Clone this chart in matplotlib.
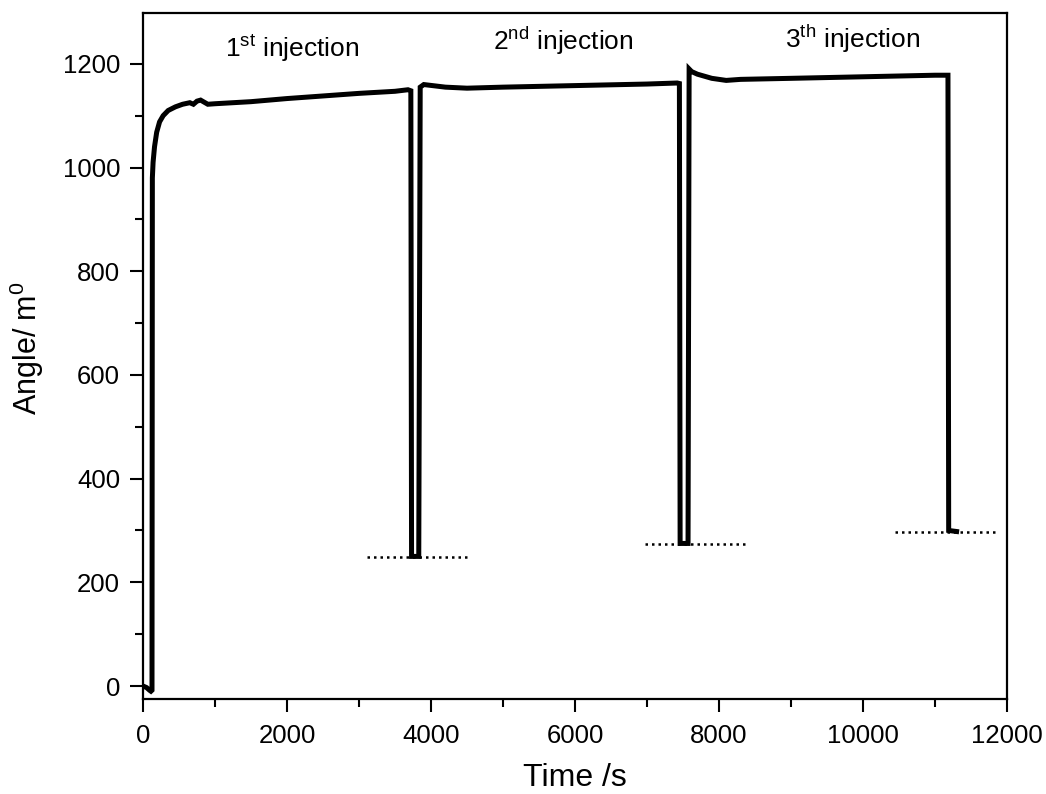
import matplotlib
matplotlib.use("Agg")
import matplotlib.pyplot as plt
from matplotlib.ticker import MultipleLocator

plt.rcParams['font.family'] = ['Liberation Sans', 'DejaVu Sans']
plt.rcParams['mathtext.fontset'] = 'custom'
plt.rcParams['mathtext.rm'] = 'Liberation Sans'
plt.rcParams['mathtext.it'] = 'Liberation Sans:italic'
plt.rcParams['mathtext.bf'] = 'Liberation Sans:bold'

time_s = [0, 50, 90, 110, 125, 130, 140, 160, 190, 230, 280, 350, 450, 550, 650, 700, 750, 800,
          850, 900, 1000, 1500, 2000, 2500, 3000, 3500, 3680, 3720, 3730, 3830, 3850, 3900,
          4200, 4500, 5000, 6000, 7000, 7420, 7450, 7460, 7570, 7585, 7620, 7700, 7900, 8100,
          8300, 9000, 10000, 11000, 11180, 11190, 11300]
angle = [0, -3, -8, -10, -8, 980, 1010, 1040, 1068, 1088, 1100, 1110, 1117, 1122, 1125, 1122,
         1128, 1130, 1126, 1122, 1123, 1127, 1133, 1138, 1143, 1147, 1150, 1148, 250, 250,
         1155, 1160, 1155, 1153, 1155, 1158, 1161, 1163, 1162, 275, 275, 1190, 1185, 1180,
         1172, 1168, 1170, 1172, 1175, 1178, 1178, 300, 298]

baseline_x = [[3110, 4500], [6970, 8360], [10440, 11830]]
baseline_y = [249, 274, 297]

labels = [("1", "st", 1140, 1214), ("2", "nd", 4860, 1226), ("3", "th", 8917, 1230)]

fig = plt.figure(figsize=(10.46, 7.94), dpi=100)
ax = fig.add_axes([143/1046, 1 - 699/794, (1007-143)/1046, (699-13)/794])
ax.plot(time_s, angle, color='black', lw=3.6, solid_joinstyle='miter')
for xs, yv in zip(baseline_x, baseline_y):
    ax.plot(xs, [yv, yv], color='black', lw=1.8, ls=(0, (1, 1.6)))

for num, sup, xl, yb in labels:
    ax.text(xl, yb, r"%s$^{\mathrm{%s}}$ injection" % (num, sup), fontsize=19,
            ha='left', va='baseline')

ax.set_xlim(0, 12000)
ax.set_ylim(-25, 1298)
ax.xaxis.set_major_locator(MultipleLocator(2000))
ax.xaxis.set_minor_locator(MultipleLocator(1000))
ax.yaxis.set_major_locator(MultipleLocator(200))
ax.yaxis.set_minor_locator(MultipleLocator(100))
ax.tick_params(which='major', direction='out', length=9.5, width=1.5, labelsize=18.5)
ax.tick_params(axis='x', which='major', pad=8.5)
ax.tick_params(axis='y', which='major', pad=7)
ax.tick_params(which='minor', direction='out', length=5.5, width=1.5)
for s in ax.spines.values():
    s.set_linewidth(1.6)
fig.text(575/1046, 1 - 786/794, "Time /s", fontsize=23, ha='center', va='baseline')
fig.text(27/1046, 1 - 348/794, r"Angle/ m$^{\mathrm{0}}$", fontsize=22, rotation=90,
         ha='center', va='center')
fig.savefig("out.png", dpi=100)
